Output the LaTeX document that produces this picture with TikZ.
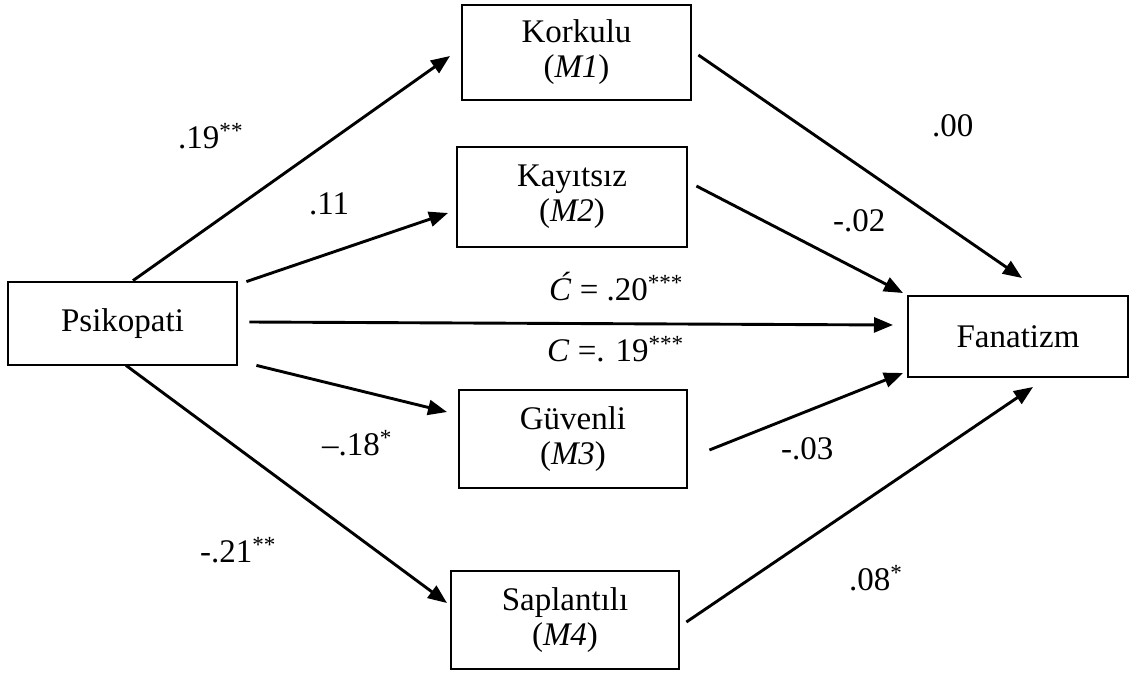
\documentclass[tikz,border=0pt]{standalone}
\usepackage{fontspec}
\setmainfont{Liberation Serif}
\usetikzlibrary{arrows.meta,calc}
\tikzset{
  box/.style={draw, line width=2.8pt, inner sep=0pt, align=center,
    font=\fontsize{33}{35}\selectfont},
  conn/.style={line width=2.9pt, -{Triangle[length=19pt,width=15pt]}},
  lab/.style={anchor=base west, inner sep=0pt, font=\fontsize{33}{35}\selectfont},
}
\begin{document}
\begin{tikzpicture}[x=1pt,y=-1pt]
\useasboundingbox (0,0) rectangle (1136,675);
\fill[white] (0,0) rectangle (1136,675);
% boxes
\node[box, minimum width=229pt, minimum height=83pt] (psi) at (122.5,323.5) {Psikopati};
\node[box, minimum width=229pt, minimum height=95pt] (m1) at (576.5,52.5) {Korkulu\\(\textit{M1})};
\node[box, minimum width=230pt, minimum height=100pt] (m2) at (572,197) {Kayıtsız\\(\textit{M2})};
\node[box, minimum width=228pt, minimum height=98pt] (m3) at (573,439) {Güvenli\\(\textit{M3})};
\node[box, minimum width=228pt, minimum height=98pt] (m4) at (565,620) {Saplantılı\\(\textit{M4})};
\node[box, minimum width=220pt, minimum height=81pt] (fan) at (1018,336.5) {Fanatizm};
% end points
\coordinate (t1) at (450,56);
\coordinate (t2) at (448,213);
\coordinate (t3) at (893,325);
\coordinate (t4) at (447,412);
\coordinate (t5) at (447,603);
\coordinate (u1) at (1022,278);
\coordinate (u2) at (903,293);
\coordinate (u3) at (903,373);
\coordinate (u4) at (1033,387);
% connectors
\draw[conn] ([xshift=10.5pt]psi.north) -- (t1);
\draw[conn] ([xshift=8pt,yshift=-1pt]psi.north east) -- (t2);
\draw[conn] ([xshift=11pt,yshift=1.5pt]psi.east) -- (t3);
\draw[conn] ([xshift=18pt,yshift=1pt]psi.south east) -- (t4);
\draw[conn] ([xshift=3.5pt,yshift=1pt]psi.south) -- (t5);
\draw[conn] ([xshift=6pt,yshift=-2.5pt]m1.east) -- (u1);
\draw[conn] ([xshift=8pt,yshift=11pt]m2.east) -- (u2);
\draw[conn] ([xshift=21pt,yshift=-11pt]m3.east) -- (u3);
\draw[conn] ([xshift=6pt,yshift=-2pt]m4.east) -- (u4);
% labels
\node[lab] (l1) at (178,148) {.19\textsuperscript{**}};
\node[lab] (l2) at (309,214) {.11};
\node[lab] (l3) at (549,300) {\textit{Ć} = .20\textsuperscript{***}};
\node[lab] (l4) at (547,361) {\textit{C} =. 19\textsuperscript{***}};
\node[lab] (l5) at (322,455) {–.18\textsuperscript{*}};
\node[lab] (l6) at (200,562) {-.21\textsuperscript{**}};
\node[lab] (l7) at (932,136) {.00};
\node[lab] (l8) at (833,231) {-.02};
\node[lab] (l9) at (781,459) {-.03};
\node[lab] (l10) at (849,590) {.08\textsuperscript{*}};
\end{tikzpicture}
\end{document}
